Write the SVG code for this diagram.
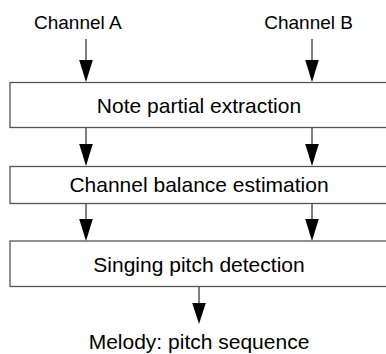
<svg xmlns="http://www.w3.org/2000/svg" width="386" height="354" viewBox="0 0 386 354">
<style>
.box{fill:#fff;stroke:#555;stroke-width:1.3}
.lbl{font-family:"Liberation Sans",Arial,sans-serif;font-size:21px;fill:#000;text-anchor:middle}
.io{font-family:"Liberation Sans",Arial,sans-serif;font-size:19px;fill:#000}
.ln{stroke:#000;stroke-width:1;fill:none}
.ah{fill:#000}
</style>
<rect width="386" height="354" fill="#fff"/>
<g id="connectors">
<line class="ln" x1="86" y1="39" x2="86" y2="62"/><polygon class="ah" points="79.2,60 92.8,60 86,82"/>
<line class="ln" x1="312" y1="39" x2="312" y2="62"/><polygon class="ah" points="305.2,60 318.8,60 312,82"/>
<line class="ln" x1="86" y1="128" x2="86" y2="146"/><polygon class="ah" points="79.2,144 92.8,144 86,166"/>
<line class="ln" x1="312" y1="128" x2="312" y2="146"/><polygon class="ah" points="305.2,144 318.8,144 312,166"/>
<line class="ln" x1="86" y1="204" x2="86" y2="221"/><polygon class="ah" points="79.2,219 92.8,219 86,241"/>
<line class="ln" x1="312" y1="204" x2="312" y2="221"/><polygon class="ah" points="305.2,219 318.8,219 312,241"/>
<line class="ln" x1="199" y1="287" x2="199" y2="305"/><polygon class="ah" points="192.2,303 205.8,303 199,324"/>
</g>
<g id="in-a"><text class="io" x="34" y="29">Channel A</text></g>
<g id="in-b"><text class="io" x="353" y="29" text-anchor="end">Channel B</text></g>
<g id="node-extract"><rect class="box" x="10" y="82.5" width="390" height="45"/><text class="lbl" x="199" y="113">Note partial extraction</text></g>
<g id="node-balance"><rect class="box" x="10" y="166.5" width="390" height="37"/><text class="lbl" x="199" y="191.5">Channel balance estimation</text></g>
<g id="node-pitch"><rect class="box" x="10" y="241" width="390" height="45.5"/><text class="lbl" x="199" y="271.5">Singing pitch detection</text></g>
<g id="out"><text class="lbl" x="199" y="349">Melody: pitch sequence</text></g>
</svg>
